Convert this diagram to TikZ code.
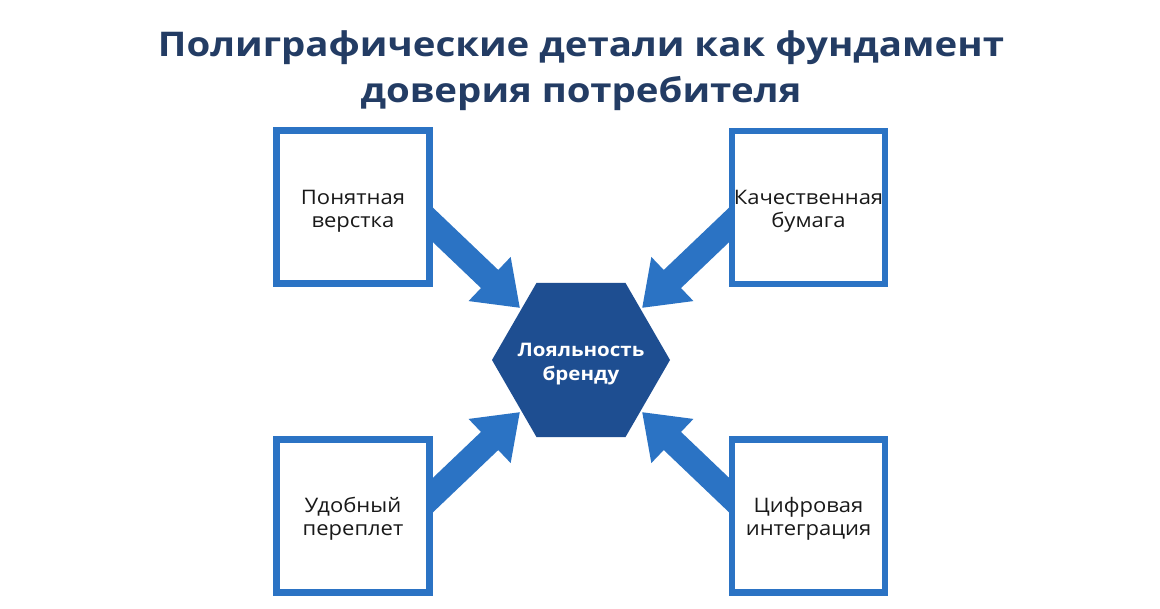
\documentclass[tikz,border=0pt]{standalone}
\usepackage{fontspec}
\setmainfont{Open Sans}
\newfontfamily\titlefont[FakeStretch=1.13]{Open Sans}
\newfontfamily\widefont[FakeStretch=1.1]{Open Sans}
\usetikzlibrary{arrows.meta,shapes.geometric}
\definecolor{boxblue}{RGB}{43,115,196}
\definecolor{hexblue}{RGB}{30,78,145}
\definecolor{titlenavy}{RGB}{35,60,100}
\definecolor{txt}{RGB}{25,25,25}
\begin{document}
\begin{tikzpicture}[x=0.75pt,y=-0.75pt,
  infobox/.style={draw=boxblue,line width=4.9pt,fill=white,minimum width=115pt,minimum height=115pt,inner sep=0pt,align=center,text=txt,font=\widefont\fontsize{15}{17.5}\selectfont},
  hexshape/.style={regular polygon,regular polygon sides=6,fill=hexblue,minimum size=133.5pt,inner sep=0pt},
  hextext/.style={text=white,align=center,font=\widefont\fontsize{14}{18.5}\selectfont\bfseries},
  fatarrow/.style={draw=boxblue,line width=18.75pt,-{Triangle[width=43.5pt,length=31.5pt]}},
  titletext/.style={text=titlenavy,align=center,font=\titlefont\fontsize{25.5}{34.5}\selectfont\bfseries}]
\useasboundingbox (0,0) rectangle (1160,609);
\fill[white] (0,0) rectangle (1160,609);
\node[titletext] (title) at (581,71) {Полиграфические детали как фундамент\\доверия потребителя};
% arrow coordinates
\coordinate (sTL) at (400,193.5);
\coordinate (tTL) at (520,308);
\coordinate (sTR) at (762,193.5);
\coordinate (tTR) at (642,308);
\coordinate (sBL) at (400,526.5);
\coordinate (tBL) at (520,412);
\coordinate (sBR) at (762,526.5);
\coordinate (tBR) at (642,412);
\draw[fatarrow] (sTL) -- (tTL);
\draw[fatarrow] (sTR) -- (tTR);
\draw[fatarrow] (sBL) -- (tBL);
\draw[fatarrow] (sBR) -- (tBR);
% boxes
\node[infobox] (tl) at (353,207) {};
\node[infobox] (tr) at (808.5,207.5) {};
\node[infobox] (bl) at (353,516) {};
\node[infobox] (br) at (808.5,516) {};
\node[text=txt,align=center,font=\widefont\fontsize{15}{17.5}\selectfont] (tltext) at (353,211) {Понятная\\верстка};
\node[text=txt,align=center,font=\widefont\fontsize{15}{17.5}\selectfont] (trtext) at (808.5,211) {Качественная\\бумага};
\node[text=txt,align=center,font=\widefont\fontsize{15}{17.5}\selectfont] (bltext) at (353,519) {Удобный\\переплет};
\node[text=txt,align=center,font=\widefont\fontsize{15}{17.5}\selectfont] (brtext) at (808.5,519) {Цифровая\\интеграция};
% hexagon
\node[hexshape] (hex) at (581,360) {};
\node[hextext] (hexlabel) at (581,364) {Лояльность\\бренду};
\end{tikzpicture}
\end{document}
